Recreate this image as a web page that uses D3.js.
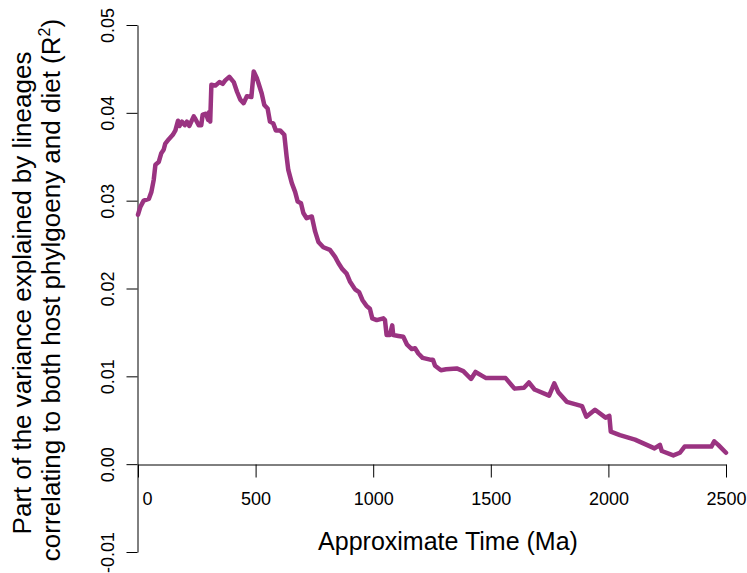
<!DOCTYPE html>
<html>
<head>
<meta charset="utf-8">
<script src="https://cdn.jsdelivr.net/npm/d3@7"></script>
<style>
  body { margin: 0; background: #fff; }
  text { font-family: "Liberation Sans", Arial, sans-serif; fill: #000; }
</style>
</head>
<body>
<script>
// approximate time (Ma) and R2
var timeMa = [0, 10, 24, 46, 57, 67, 74, 88, 99, 109, 116, 131, 148, 159, 170, 176, 187, 199, 208, 218,
  237, 244, 258, 269, 275, 289, 298, 303, 307, 312, 329, 346, 360, 371, 388, 407, 421, 435, 449, 463,
  482, 492, 506, 512, 526, 537, 551, 561, 575, 586, 604, 622, 632, 639, 654, 668, 679, 693, 703, 717,
  739, 753, 767, 788, 816, 838, 852, 869, 887, 901, 923, 940, 954, 972, 986, 996, 1015, 1043, 1050, 1057,
  1071, 1081, 1085, 1107, 1128, 1144, 1164, 1178, 1192, 1210, 1242, 1254, 1263, 1288, 1310, 1355, 1383, 1416, 1435, 1467,
  1480, 1563, 1601, 1641, 1662, 1686, 1748, 1770, 1787, 1823, 1888, 1906, 1943, 1988, 2004, 2010, 2049, 2113, 2163, 2196,
  2219, 2227, 2276, 2304, 2324, 2438, 2450, 2467, 2500];
var r2 = [0.0284, 0.0293, 0.0300, 0.0302, 0.0310, 0.0324, 0.0341, 0.0344, 0.0354, 0.0358, 0.0365, 0.0370, 0.0375, 0.0380, 0.0391, 0.0385, 0.0390, 0.0386, 0.0390, 0.0385,
  0.0396, 0.0393, 0.0386, 0.0386, 0.0398, 0.0399, 0.0392, 0.0401, 0.0390, 0.0432, 0.0431, 0.0435, 0.0433, 0.0437, 0.0441, 0.0435, 0.0424, 0.0415, 0.0411, 0.0419,
  0.0418, 0.0447, 0.0439, 0.0434, 0.0422, 0.0409, 0.0405, 0.0390, 0.0388, 0.0380, 0.0380, 0.0375, 0.0350, 0.0335, 0.0320, 0.0310, 0.0299, 0.0297, 0.0286, 0.0280,
  0.0282, 0.0265, 0.0253, 0.0247, 0.0244, 0.0236, 0.0229, 0.0222, 0.0217, 0.0208, 0.0199, 0.0196, 0.0187, 0.0180, 0.0177, 0.0166, 0.0164, 0.0166, 0.0164, 0.0147,
  0.0147, 0.0158, 0.0147, 0.0146, 0.0145, 0.0136, 0.0131, 0.0132, 0.0126, 0.0121, 0.0119, 0.0119, 0.0112, 0.0107, 0.0108, 0.0109, 0.0106, 0.0097, 0.0105, 0.0100,
  0.0098, 0.0098, 0.0086, 0.0087, 0.0093, 0.0085, 0.0078, 0.0092, 0.0082, 0.0071, 0.0066, 0.0054, 0.0062, 0.0053, 0.0055, 0.0037, 0.0033, 0.0028, 0.0022, 0.0018,
  0.0022, 0.0015, 0.0010, 0.0013, 0.0020, 0.0020, 0.0026, 0.0022, 0.0013];

var xTicks = [0, 500, 1000, 1500, 2000, 2500];
var xTickLabels = ["0", "500", "1000", "1500", "2000", "2500"];
var yTicks = [-0.01, 0, 0.01, 0.02, 0.03, 0.04, 0.05];
var yTickLabels = ["-0.01", "0.00", "0.01", "0.02", "0.03", "0.04", "0.05"];

var W = 747, H = 573;

var svg = d3.select("body").append("svg")
    .attr("width", W)
    .attr("height", H);

var x = d3.scaleLinear().domain([0, 2500]).range([138, 726]);
var y = d3.scaleLinear().domain([-0.01, 0.05]).range([552, 25]);

// x axis sits on the zero line
var xAxis = svg.append("g")
    .attr("transform", "translate(0," + Math.round(y(0)) + ".5)")
    .call(d3.axisBottom(x).tickValues(xTicks).tickSize(13).tickSizeOuter(0).tickPadding(15)
        .tickFormat(function (d, i) { return xTickLabels[i]; }));
xAxis.selectAll("text").attr("font-size", 18).attr("font-family", null)
    .attr("dx", function (d) { return d === 0 ? 9 : 0; });
xAxis.selectAll("line, path").attr("stroke", "#000");
xAxis.select(".domain").attr("stroke-width", 1);

// y axis with rotated labels, R style
var yAxis = svg.append("g")
    .attr("transform", "translate(137.5,0)")
    .call(d3.axisLeft(y).tickValues(yTicks).tickSize(11).tickSizeOuter(0)
        .tickFormat(function (d, i) { return yTickLabels[i]; }));
yAxis.selectAll("text")
    .attr("font-size", 18).attr("font-family", null)
    .attr("transform", "rotate(-90)")
    .attr("x", 0).attr("y", -24).attr("dy", null)
    .attr("text-anchor", "middle");
yAxis.selectAll("line, path").attr("stroke", "#000");

// the curve
var pts = timeMa.map(function (t, i) { return [t, r2[i]]; });
svg.append("path")
    .datum(pts)
    .attr("fill", "none")
    .attr("stroke", "#9a3381")
    .attr("stroke-width", 4.5)
    .attr("stroke-linejoin", "round")
    .attr("stroke-linecap", "round")
    .attr("d", d3.line()
        .x(function (d) { return x(d[0]); })
        .y(function (d) { return y(d[1]); }));

// axis titles
svg.append("text")
    .attr("x", 448).attr("y", 550)
    .attr("text-anchor", "middle")
    .attr("font-size", 25)
    .text("Approximate Time (Ma)");

var yTitle = svg.append("text")
    .attr("transform", "rotate(-90)")
    .attr("text-anchor", "middle")
    .attr("font-size", 26);
yTitle.append("tspan")
    .attr("x", -293).attr("y", 31)
    .text("Part of the variance explained by lineages");
var l2 = yTitle.append("tspan")
    .attr("x", -290).attr("y", 60)
    .text("correlating to both host phylgoeny and diet (R");
l2.append("tspan").attr("font-size", 16).attr("dy", -10).text("2");
l2.append("tspan").attr("dy", 10).text(")");
</script>
</body>
</html>
